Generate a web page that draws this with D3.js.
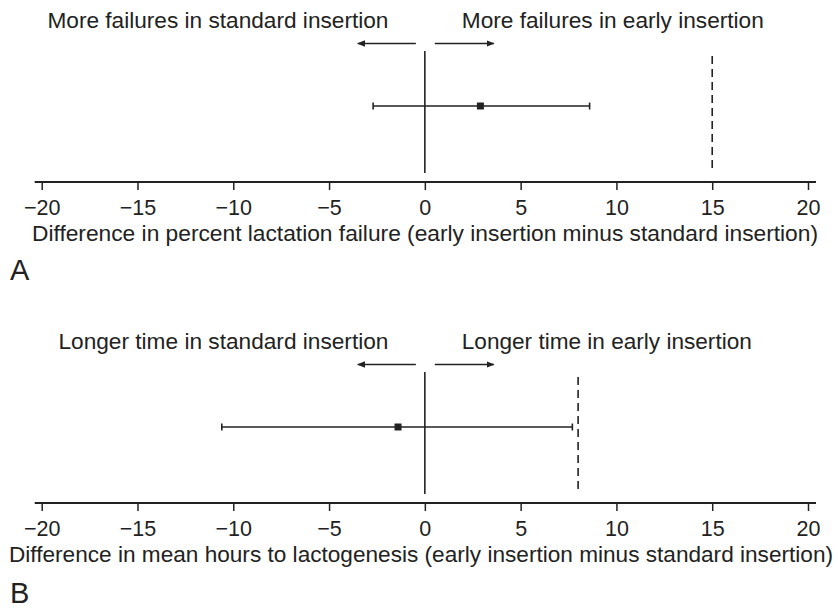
<!DOCTYPE html>
<html>
<head>
<meta charset="utf-8">
<script src="https://cdn.jsdelivr.net/npm/d3@7"></script>
<style>
  body { margin: 0; background: #fff; }
  text { font-family: "Liberation Sans", Arial, Helvetica, sans-serif; fill: #222; }
</style>
</head>
<body>
<div id="chart"></div>
<script>
// data
var panelNames = ["A", "B"];
var estimates = [2.9, -1.4];
var lowerCI = [-2.7, -10.6];
var upperCI = [8.6, 7.7];
var marginLines = [15, 8];
var tickValues = [-20, -15, -10, -5, 0, 5, 10, 15, 20];
var leftLabels = ["More failures in standard insertion", "Longer time in standard insertion"];
var rightLabels = ["More failures in early insertion", "Longer time in early insertion"];
var axisTitles = [
  "Difference in percent lactation failure (early insertion minus standard insertion)",
  "Difference in mean hours to lactogenesis (early insertion minus standard insertion)"
];

var width = 838, height = 608;
var ink = "#222";

// measured text extents in the figure (px)
var titleWidths = [786, 824];
var leftWidths = [341, 330];
var rightWidths = [302, 290];

var svg = d3.select("#chart")
  .append("svg")
    .attr("width", width)
    .attr("height", height);

svg.append("defs").append("marker")
    .attr("id", "head")
    .attr("viewBox", "0 0 10 10")
    .attr("refX", 9).attr("refY", 5)
    .attr("markerWidth", 5).attr("markerHeight", 5)
    .attr("markerUnits", "strokeWidth")
    .attr("orient", "auto")
  .append("path")
    .attr("d", "M0,1 L10,5 L0,9 z")
    .attr("fill", ink);

var x = d3.scaleLinear()
  .domain([-20, 20])
  .range([41.7, 808]);

var axisY = [182, 503];

panelNames.forEach(function(name, i) {
  var g = svg.append("g")
    .attr("transform", "translate(0," + axisY[i] + ")");

  // axis
  g.append("line")
    .attr("x1", x(-20) - 7).attr("x2", x(20) + 8)
    .attr("y1", 0).attr("y2", 0)
    .attr("stroke", ink).attr("stroke-width", 2);

  var ax = g.append("g")
    .call(d3.axisBottom(x).tickValues(tickValues).tickSize(8).tickSizeOuter(0)
      .tickFormat(function(d) { return d < 0 ? "\u2212" + Math.abs(d) : d; }));
  ax.select(".domain").remove();
  ax.selectAll(".tick line").attr("stroke", ink).attr("stroke-width", 1.5);
  ax.selectAll(".tick text")
    .attr("y", 33).attr("dy", null)
    .style("font-size", "21.5px")
    .style("font-family", "'Liberation Sans', Arial, sans-serif")
    .attr("fill", ink);

  // axis title
  g.append("text")
    .attr("x", i === 0 ? 32 : 9)
    .attr("y", 58.5)
    .attr("textLength", titleWidths[i])
    .attr("lengthAdjust", "spacingAndGlyphs")
    .style("font-size", "22px")
    .text(axisTitles[i]);

  // panel letter
  g.append("text")
    .attr("x", 10)
    .attr("y", i === 0 ? 98 : 100)
    .style("font-size", "29px")
    .text(name);

  // zero line
  g.append("line")
    .attr("x1", x(0)).attr("x2", x(0))
    .attr("y1", -131).attr("y2", -9)
    .attr("stroke", ink).attr("stroke-width", 1.6);

  // dashed margin line
  g.append("line")
    .attr("x1", x(marginLines[i])).attr("x2", x(marginLines[i]))
    .attr("y1", -126).attr("y2", -9)
    .attr("stroke", ink).attr("stroke-width", 1.6)
    .attr("stroke-dasharray", "8,5");

  // confidence interval
  var ciY = -76;
  g.append("line")
    .attr("x1", x(lowerCI[i])).attr("x2", x(upperCI[i]))
    .attr("y1", ciY).attr("y2", ciY)
    .attr("stroke", ink).attr("stroke-width", 1.6);
  [lowerCI[i], upperCI[i]].forEach(function(v) {
    g.append("line")
      .attr("x1", x(v)).attr("x2", x(v))
      .attr("y1", ciY - 3.5).attr("y2", ciY + 3.5)
      .attr("stroke", ink).attr("stroke-width", 1.6);
  });
  g.append("rect")
    .attr("x", x(estimates[i]) - 3.5).attr("y", ciY - 3.5)
    .attr("width", 7).attr("height", 7)
    .attr("fill", ink);

  // direction arrows
  var arrowY = -138.5;
  g.append("line")
    .attr("x1", x(-0.47)).attr("x2", x(-3.5))
    .attr("y1", arrowY).attr("y2", arrowY)
    .attr("stroke", ink).attr("stroke-width", 1.6)
    .attr("marker-end", "url(#head)");
  g.append("line")
    .attr("x1", x(0.52)).attr("x2", x(3.6))
    .attr("y1", arrowY).attr("y2", arrowY)
    .attr("stroke", ink).attr("stroke-width", 1.6)
    .attr("marker-end", "url(#head)");

  // direction labels
  g.append("text")
    .attr("x", x(-1.9) - leftWidths[i]).attr("y", -154)
    .attr("textLength", leftWidths[i])
    .attr("lengthAdjust", "spacingAndGlyphs")
    .style("font-size", "22px")
    .text(leftLabels[i]);
  g.append("text")
    .attr("x", x(1.93)).attr("y", -154)
    .attr("textLength", rightWidths[i])
    .attr("lengthAdjust", "spacingAndGlyphs")
    .style("font-size", "22px")
    .text(rightLabels[i]);
});
</script>
</body>
</html>
